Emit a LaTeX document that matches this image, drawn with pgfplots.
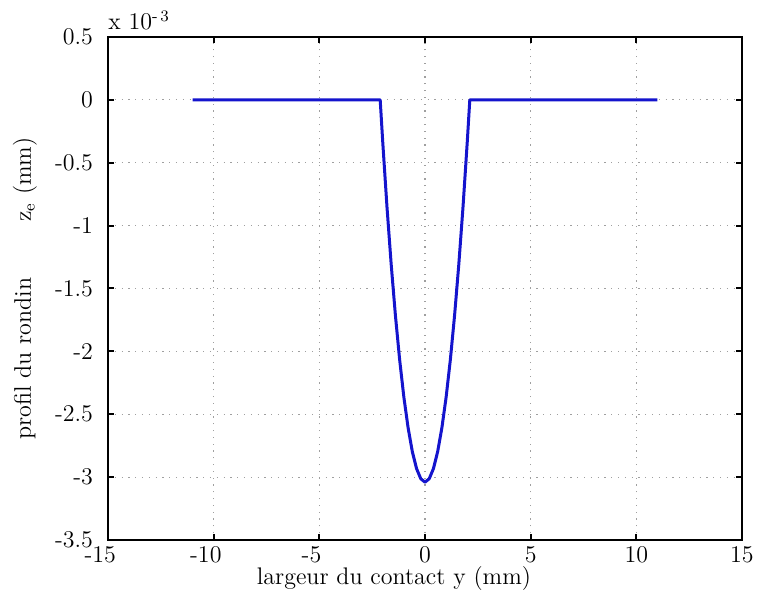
\documentclass[border=0pt]{standalone}
\usepackage{pgfplots}
\pgfplotsset{compat=1.18}
\definecolor{curveblue}{RGB}{20,20,205}
\begin{document}
\begin{tikzpicture}[font=\fontsize{12}{14}\selectfont]
\path[use as bounding box] (-54pt,-26pt) rectangle (326.5pt,270pt);
\begin{axis}[
  at={(0,0)}, anchor=south west,
  scale only axis,
  width=317pt, height=251.5pt,
  xmin=-15, xmax=15, ymin=-3.5, ymax=0.5,
  xtick={-15,-10,-5,0,5,10,15},
  xticklabels={\llap{-}15\hphantom{-},\llap{-}10\hphantom{-},\llap{-}5\hphantom{-},0,5,10,15},
  ytick={-3.5,-3,-2.5,-2,-1.5,-1,-0.5,0,0.5},
  yticklabels={-3.5,-3,-2.5,-2,-1.5,-1,-0.5,0,0.5},
  tick align=inside,
  major tick length=3.2pt,
  axis line style={line width=1.1pt, black},
  every tick/.style={black, line width=1pt},
  grid=major,
  major grid style={gray!75, line width=0.6pt, dash pattern=on 0.6pt off 2.8pt},
  xticklabel style={anchor=base, yshift=-11.5pt},
  yticklabel style={anchor=east, xshift=-4pt},
  xlabel={largeur du contact y (mm)},
  xlabel style={at={(axis description cs:0.451,0)}, anchor=base, yshift=-22.5pt},
  ylabel={profil du rondin\hspace{28pt}z$_{\mathrm{e}}$ (mm)},
  ylabel style={at={(axis description cs:-0.131,0.5)}, anchor=center},
  clip=false,
]
\addplot[curveblue, line width=1.5pt, line join=round] coordinates {
  (-11,0) (-2.12,0)
  (-2.0,-0.334) (-1.8,-0.849) (-1.6,-1.308) (-1.4,-1.714) (-1.2,-2.066)
  (-1.0,-2.364) (-0.8,-2.607) (-0.6,-2.797) (-0.4,-2.932) (-0.2,-3.013)
  (0,-3.04)
  (0.2,-3.013) (0.4,-2.932) (0.6,-2.797) (0.8,-2.607) (1.0,-2.364)
  (1.2,-2.066) (1.4,-1.714) (1.6,-1.308) (1.8,-0.849) (2.0,-0.334)
  (2.12,0) (11,0)
};
\node[anchor=base west, inner sep=0pt] at (rel axis cs:0,1) [yshift=3.5pt] {x 10\textsuperscript{-\,3}};
\end{axis}
\end{tikzpicture}
\end{document}
